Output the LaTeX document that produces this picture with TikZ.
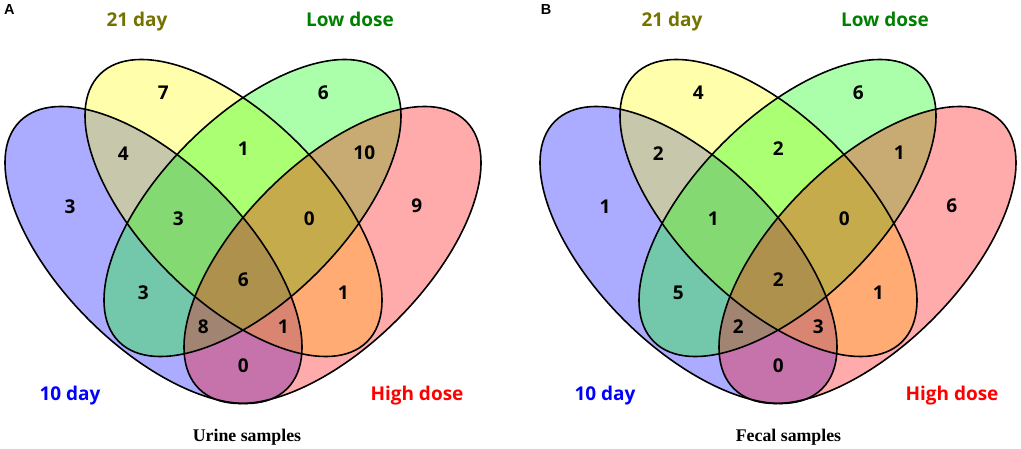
\documentclass[tikz,border=0pt]{standalone}
\usepackage{fontspec}
\setmainfont{Open Sans}
\newfontfamily\ttlfont{Liberation Serif}
\newfontfamily\letfont{Liberation Sans}
\definecolor{cA}{RGB}{0,0,255}
\definecolor{cB}{RGB}{255,255,0}
\definecolor{cC}{RGB}{0,255,0}
\definecolor{cD}{RGB}{255,0,0}
\definecolor{tA}{RGB}{0,0,255}
\definecolor{tB}{RGB}{115,115,0}
\definecolor{tC}{RGB}{0,128,0}
\definecolor{tD}{RGB}{255,0,0}
\tikzset{
  vfill/.style={fill=#1, fill opacity=0.33},
  vline/.style={draw=black, line width=1.6pt},
  num/.style={font=\fontsize{19}{23}\selectfont\bfseries, inner sep=0pt, text=black},
  cat/.style={font=\fontsize{19}{23}\selectfont\bfseries, inner sep=0pt, anchor=base, text=#1},
  ttl/.style={font=\ttlfont\fontsize{17.8}{21}\selectfont\bfseries, inner sep=0pt, anchor=base},
  plet/.style={font=\letfont\fontsize{14.5}{17}\selectfont\bfseries, inner sep=0pt, anchor=base west},
}
\newcommand{\VennE}[4]{\path[#4, rotate around={#3:(#1,#2)}] (#1,#2) ellipse [x radius=189pt, y radius=91.5pt];}
\newcommand{\VennAll}[1]{%
  \VennE{153.5}{255}{-45}{#1=cA}
  \VennE{233.5}{208}{-45}{#1=cB}
  \VennE{252.5}{208}{45}{#1=cC}
  \VennE{332.5}{255}{45}{#1=cD}
}
\newcommand{\VennPanel}[6]{%
  \VennAll{vfill}
  \VennAll{vline}
  \foreach \px/\py/\v [count=\i] in {#2} {\node[num] (#1n\i) at (\px,\py) {\v};}
  \node[cat=tB] (#1B) at (137,27) {21 day};
  \node[cat=tC] (#1C) at (350,27) {Low dose};
  \node[cat=tA] (#1A) at (70,400) {10 day};
  \node[cat=tD] (#1D) at (417,400) {High dose};
  \node[ttl] (#1t) at (#4,441.5) {#3};
  \node[plet] (#1l) at (#6,15) {#5};
}
\begin{document}
\begin{tikzpicture}[x=1pt,y=-1pt]
\useasboundingbox (0,0) rectangle (1021,449);
\begin{scope}
\VennPanel{pa}{70/206.7/3, 163.3/92.7/7, 323.3/92.7/6, 416.7/206/9, 123.3/153.3/4, 243.3/148.3/1, 364.3/152.7/10, 178.3/219/3, 309.3/219/0, 143.3/292.7/3, 243.3/279.3/6, 343.3/292.7/1, 203.3/326.7/8, 283.3/326.7/1, 243.3/366/0}{Urine samples}{247}{A}{4}
\end{scope}
\begin{scope}[xshift=535pt]
\VennPanel{pb}{70/206.7/1, 163.3/92.7/4, 323.3/92.7/6, 416.7/206/6, 123.3/153.3/2, 243.3/148.3/2, 364.3/152.7/1, 178.3/219/1, 309.3/219/0, 143.3/292.7/5, 243.3/279.3/2, 343.3/292.7/1, 203.3/326.7/2, 283.3/326.7/3, 243.3/366/0}{Fecal samples}{253.5}{B}{5.7}
\end{scope}
\end{tikzpicture}
\end{document}
